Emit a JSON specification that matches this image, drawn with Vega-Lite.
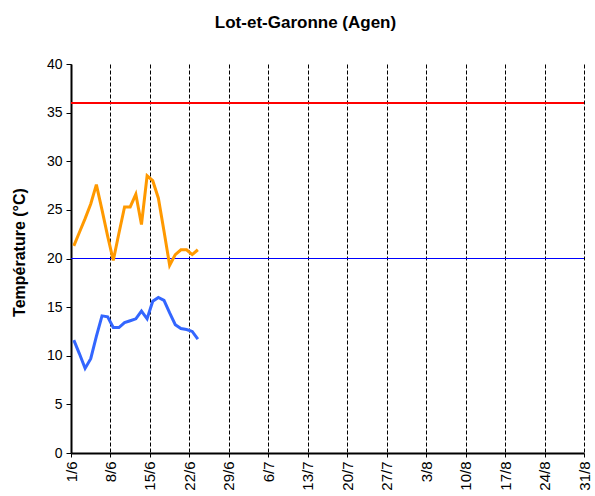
{
  "$schema": "https://vega.github.io/schema/vega-lite/v6.json",
  "width": 513,
  "height": 389,
  "autosize": "none",
  "padding": {"left": 71, "top": 64, "right": 11, "bottom": 43},
  "background": "white",
  "config": {
    "view": {"stroke": null},
    "font": "Liberation Sans"
  },
  "title": {
    "text": "Lot-et-Garonne (Agen)",
    "font": "Liberation Sans",
    "fontSize": 17,
    "fontWeight": "bold",
    "color": "black",
    "anchor": "middle",
    "dx": -22,
    "offset": 25
  },
  "data": {
    "values": [
      {"date": "2023-06-01T12:00:00", "tmax": 21.3, "tmin": 11.6},
      {"date": "2023-06-02T12:00:00", "tmax": 22.7, "tmin": 10.2},
      {"date": "2023-06-03T12:00:00", "tmax": 24.1, "tmin": 8.7},
      {"date": "2023-06-04T12:00:00", "tmax": 25.6, "tmin": 9.7},
      {"date": "2023-06-05T12:00:00", "tmax": 27.6, "tmin": 12.0},
      {"date": "2023-06-06T12:00:00", "tmax": 25.0, "tmin": 14.1},
      {"date": "2023-06-07T12:00:00", "tmax": 22.3, "tmin": 14.0},
      {"date": "2023-06-08T12:00:00", "tmax": 19.8, "tmin": 12.9},
      {"date": "2023-06-09T12:00:00", "tmax": 22.6, "tmin": 12.9},
      {"date": "2023-06-10T12:00:00", "tmax": 25.3, "tmin": 13.4},
      {"date": "2023-06-11T12:00:00", "tmax": 25.3, "tmin": 13.6},
      {"date": "2023-06-12T12:00:00", "tmax": 26.6, "tmin": 13.8},
      {"date": "2023-06-13T12:00:00", "tmax": 23.5, "tmin": 14.6},
      {"date": "2023-06-14T12:00:00", "tmax": 28.5, "tmin": 13.8},
      {"date": "2023-06-15T12:00:00", "tmax": 28.0, "tmin": 15.6},
      {"date": "2023-06-16T12:00:00", "tmax": 26.2, "tmin": 16.0},
      {"date": "2023-06-17T12:00:00", "tmax": 22.8, "tmin": 15.7},
      {"date": "2023-06-18T12:00:00", "tmax": 19.3, "tmin": 14.4},
      {"date": "2023-06-19T12:00:00", "tmax": 20.4, "tmin": 13.2},
      {"date": "2023-06-20T12:00:00", "tmax": 20.9, "tmin": 12.8},
      {"date": "2023-06-21T12:00:00", "tmax": 20.9, "tmin": 12.7},
      {"date": "2023-06-22T12:00:00", "tmax": 20.4, "tmin": 12.5},
      {"date": "2023-06-23T12:00:00", "tmax": 20.9, "tmin": 11.7}
    ]
  },
  "encoding": {
    "x": {
      "field": "date",
      "type": "temporal",
      "scale": {
        "domain": [
          {"year": 2023, "month": 6, "date": 1},
          {"year": 2023, "month": 8, "date": 31}
        ]
      },
      "axis": {
        "title": null,
        "values": [
          {"year": 2023, "month": 6, "date": 1},
          {"year": 2023, "month": 6, "date": 8},
          {"year": 2023, "month": 6, "date": 15},
          {"year": 2023, "month": 6, "date": 22},
          {"year": 2023, "month": 6, "date": 29},
          {"year": 2023, "month": 7, "date": 6},
          {"year": 2023, "month": 7, "date": 13},
          {"year": 2023, "month": 7, "date": 20},
          {"year": 2023, "month": 7, "date": 27},
          {"year": 2023, "month": 8, "date": 3},
          {"year": 2023, "month": 8, "date": 10},
          {"year": 2023, "month": 8, "date": 17},
          {"year": 2023, "month": 8, "date": 24},
          {"year": 2023, "month": 8, "date": 31}
        ],
        "format": "%-d/%-m",
        "labelAngle": -90,
        "labelAlign": "right",
        "labelBaseline": "middle",
        "labelFontSize": 15,
        "labelColor": "black",
        "labelPadding": 4,
        "labelFlush": false,
        "labelOverlap": false,
        "domainColor": "black",
        "domainWidth": 2,
        "tickColor": "black",
        "tickSize": 4,
        "tickWidth": 1,
        "grid": true,
        "gridColor": "black",
        "gridDash": [4, 2],
        "gridWidth": 1,
        "gridOpacity": 1
      }
    }
  },
  "layer": [
    {
      "mark": {"type": "rule", "color": "#FF0000", "strokeWidth": 1.5},
      "encoding": {"y": {"datum": 36}, "x": null}
    },
    {
      "mark": {"type": "rule", "color": "#0000FF", "strokeWidth": 1.2},
      "encoding": {"y": {"datum": 20}, "x": null}
    },
    {
      "mark": {"type": "line", "color": "#FF9900", "strokeWidth": 3},
      "encoding": {
        "y": {
          "field": "tmax",
          "type": "quantitative",
          "scale": {"domain": [0, 40], "nice": false, "zero": true},
          "axis": {
            "title": "Température (°C)",
            "titleFont": "Liberation Sans",
            "titleFontSize": 16,
            "titleFontWeight": "bold",
            "titleColor": "black",
            "titleX": -44,
            "titleY": 188,
            "values": [0, 5, 10, 15, 20, 25, 30, 35, 40],
            "labelFontSize": 14,
            "labelColor": "black",
            "labelPadding": 4,
            "domainColor": "black",
            "domainWidth": 2,
            "tickColor": "black",
            "tickSize": 5,
            "grid": false
          }
        }
      }
    },
    {
      "mark": {"type": "line", "color": "#3366FF", "strokeWidth": 3},
      "encoding": {
        "y": {"field": "tmin", "type": "quantitative"}
      }
    }
  ]
}
